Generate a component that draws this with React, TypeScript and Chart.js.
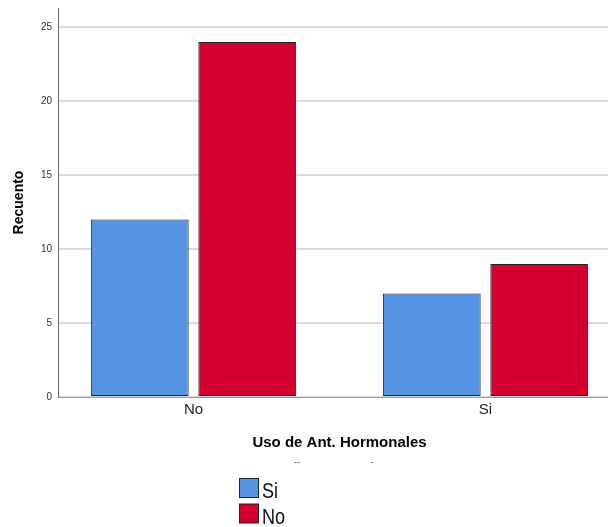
import React, { useEffect, useRef } from "react";
import { Chart, registerables } from "chart.js";

Chart.register(...registerables);

const categories = ["No", "Si"];
const seriesNames = ["Si", "No"];
const siValues = [12, 7];
const noValues = [24, 9];
const yTicks = [0, 5, 10, 15, 20, 25];
const seriesColors = ["#5594e3", "#d4002f"];

const legendPlugin = {
  id: "vlegend",
  afterDraw(chart: any) {
    const ctx = chart.ctx;
    ctx.save();
    // faint stray marks under axis title
    ctx.fillStyle = "#777";
    ctx.font = "10px 'Liberation Sans', Arial, sans-serif";
    ctx.textAlign = "center";
    ctx.textBaseline = "middle";
    ctx.fillText("--", 297, 462);
    ctx.fillText("-", 372, 462);

    chart.data.datasets.forEach((ds: any, i: number) => {
      const y = 478 + i * 25.5;
      ctx.fillStyle = ds.backgroundColor;
      ctx.fillRect(239.5, y + 0.5, 19, 19);
      ctx.strokeStyle = "#222";
      ctx.lineWidth = 1;
      ctx.strokeRect(239.5, y + 0.5, 19, 19);
      ctx.save();
      ctx.translate(262, y + 20);
      ctx.scale(0.82, 1);
      ctx.fillStyle = "#111";
      ctx.font = "22px 'Liberation Sans', Arial, sans-serif";
      ctx.textAlign = "left";
      ctx.textBaseline = "alphabetic";
      ctx.fillText(ds.label, 0, 0);
      ctx.restore();
    });
    ctx.restore();
  },
};

export default function App() {
  const ref = useRef<HTMLCanvasElement>(null);

  useEffect(() => {
    if (!ref.current) return;
    const chart = new Chart(ref.current, {
      type: "bar",
      data: {
        datasets: [
          {
            label: seriesNames[0],
            data: categories.map((_, i) => ({ x: i, y: siValues[i] })),
            backgroundColor: seriesColors[0],
            borderColor: "#222",
            borderWidth: 1,
            borderSkipped: false,
          },
          {
            label: seriesNames[1],
            data: categories.map((_, i) => ({ x: i, y: noValues[i] })),
            backgroundColor: seriesColors[1],
            borderColor: "#222",
            borderWidth: 1,
            borderSkipped: false,
          },
        ],
      },
      options: {
        animation: false,
        responsive: false,
        devicePixelRatio: 1,
        categoryPercentage: 0.736,
        barPercentage: 0.91,
        layout: { padding: { top: 8, left: 0, right: 1, bottom: 70 } },
        plugins: {
          legend: { display: false },
          tooltip: { enabled: false },
        },
        scales: {
          x: {
            type: "linear",
            offset: false,
            min: -0.464,
            max: 1.464,
            grid: { display: false, drawTicks: false, offset: false },
            border: { display: true, color: "#999", width: 1 },
            afterBuildTicks: (scale: any) => {
              scale.ticks = categories.map((_, i) => ({ value: i }));
            },
            afterFit: (scale: any) => {
              scale.height = 60;
              scale.paddingLeft = 0;
              scale.paddingRight = 0;
            },
            ticks: {
              padding: 4,
              color: "#222",
              font: { family: "'Liberation Sans', Arial, sans-serif", size: 15 },
              callback: (v: any) => categories[Math.round(Number(v))] ?? "",
            },
            title: {
              display: true,
              text: "Uso de Ant. Hormonales",
              color: "#000",
              font: { family: "'Liberation Sans', Arial, sans-serif", size: 15, weight: "bold" },
              padding: { top: 0, bottom: 5 },
            },
          },
          y: {
            type: "linear",
            min: 0,
            max: 26.3,
            grid: { color: "#dcdcdc", lineWidth: 2, drawTicks: false },
            border: { display: true, color: "#666", width: 1 },
            afterBuildTicks: (scale: any) => {
              scale.ticks = yTicks.map((v) => ({ value: v }));
            },
            afterFit: (scale: any) => {
              scale.width = 58;
              scale.paddingTop = 0;
              scale.paddingBottom = 0;
            },
            ticks: {
              padding: 6,
              color: "#333",
              font: { family: "'Liberation Sans', Arial, sans-serif", size: 10 },
            },
            title: {
              display: true,
              text: "Recuento",
              color: "#000",
              font: { family: "'Liberation Sans', Arial, sans-serif", size: 14, weight: "bold" },
              padding: { top: 11, bottom: 0 },
            },
          },
        },
      },
      plugins: [legendPlugin],
    } as any);
    return () => chart.destroy();
  }, []);

  return (
    <div style={{ position: "absolute", left: 0, top: 0, width: 608, height: 527, overflow: "hidden", background: "#fff" }}>
      <canvas ref={ref} width={622} height={527} />
    </div>
  );
}
